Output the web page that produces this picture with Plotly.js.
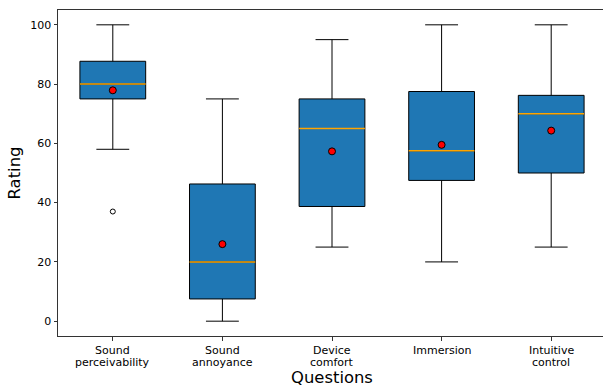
<!DOCTYPE html>
<html>
<head>
<meta charset="utf-8">
<script src="https://cdn.plot.ly/plotly-3.0.1.min.js"></script>
<style>
html,body{margin:0;padding:0;overflow:hidden;background:#fff;}
#chart{width:607px;height:387px;}
</style>
</head>
<body>
<div id="chart"></div>
<script>
const categories = ["Sound\nperceivability", "Sound\nannoyance", "Device\ncomfort", "Immersion", "Intuitive\ncontrol"];
const lowerWhisker = [58, 0, 25, 20, 25];
const q1Values     = [75, 7.5, 38.7, 47.5, 50];
const medianValues = [80, 20, 65, 57.5, 70];
const q3Values     = [87.7, 46.3, 75, 77.5, 76.2];
const upperWhisker = [100, 75, 95, 100, 100];
const meanValues   = [77.9, 26.0, 57.3, 59.5, 64.3];
const outlierCat   = [0];
const outlierVals  = [37];

const pos = categories.map((c, i) => i);
const boxW = 0.6;
const FONT = 'DejaVu Sans, sans-serif';

const traces = [
  {
    type: 'box',
    x: pos,
    q1: q1Values,
    median: medianValues,
    q3: q3Values,
    lowerfence: lowerWhisker,
    upperfence: upperWhisker,
    width: boxW,
    whiskerwidth: 0.5,
    fillcolor: '#1f77b4',
    line: {color: '#000000', width: 1},
    boxpoints: false,
    hoverinfo: 'skip',
    showlegend: false
  },
  {
    type: 'scatter',
    mode: 'markers',
    x: outlierCat,
    y: outlierVals,
    marker: {symbol: 'circle', size: 5, color: '#ffffff', line: {color: '#000000', width: 1}},
    showlegend: false,
    hoverinfo: 'skip'
  },
  {
    type: 'scatter',
    mode: 'markers',
    x: pos,
    y: meanValues,
    marker: {symbol: 'circle', size: 7, color: '#ff0000', line: {color: '#000000', width: 1}},
    showlegend: false,
    hoverinfo: 'skip'
  }
];

const shapes = pos.map((p, i) => ({
  type: 'line', xref: 'x', yref: 'y',
  x0: p - boxW / 2, x1: p + boxW / 2,
  y0: medianValues[i], y1: medianValues[i],
  line: {color: '#ffa500', width: 1.5},
  layer: 'above'
}));

// x tick labels drawn line by line for matplotlib-like line spacing
const annotations = [];
categories.forEach((label, i) => {
  label.split('\n').forEach((line, j) => {
    annotations.push({
      xref: 'x', yref: 'paper', x: pos[i], y: 0,
      yanchor: 'top', xanchor: 'center',
      yshift: -6.5 - j * 12.8,
      text: line, showarrow: false,
      font: {size: 11, family: FONT, color: '#000000'},
      borderpad: 0
    });
  });
});

const layout = {
  width: 607,
  height: 387,
  margin: {l: 58, r: 1, t: 10, b: 51},
  paper_bgcolor: '#ffffff',
  plot_bgcolor: '#ffffff',
  font: {family: FONT, color: '#000000', size: 11},
  showlegend: false,
  shapes: shapes,
  annotations: annotations,
  xaxis: {
    range: [-0.5, 4.5],
    tickmode: 'array',
    tickvals: pos,
    showticklabels: false,
    showgrid: false,
    zeroline: false,
    showline: true,
    mirror: true,
    linecolor: '#333333',
    linewidth: 1,
    ticks: 'outside',
    ticklen: 3.5,
    tickcolor: '#333333',
    title: {text: 'Questions', font: {size: 16.4, family: FONT}, standoff: 33}
  },
  yaxis: {
    range: [-5, 105],
    tickvals: [0, 20, 40, 60, 80, 100],
    showgrid: false,
    zeroline: false,
    showline: true,
    mirror: true,
    linecolor: '#333333',
    linewidth: 1,
    ticks: 'outside',
    ticklen: 3.5,
    tickcolor: '#333333',
    tickfont: {size: 11, family: FONT},
    title: {text: 'Rating', font: {size: 16.4, family: FONT}, standoff: 5}
  }
};

Plotly.newPlot('chart', traces, layout, {staticPlot: true, displayModeBar: false});
</script>
</body>
</html>
